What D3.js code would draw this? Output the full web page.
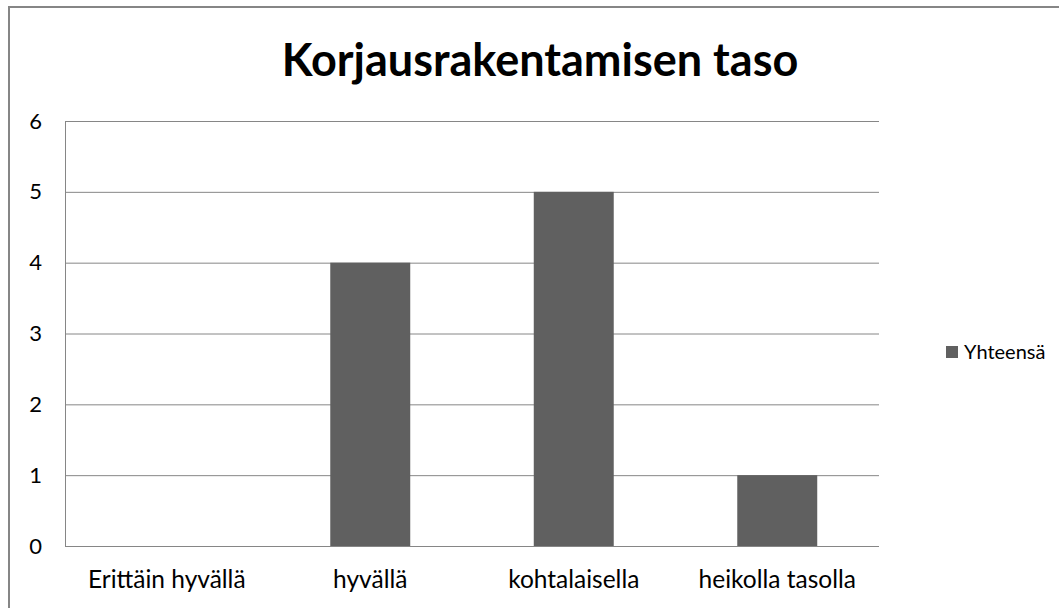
<!DOCTYPE html>
<html>
<head>
<meta charset="utf-8">
<script src="https://cdn.jsdelivr.net/npm/d3@7"></script>
<style>
  body { margin: 0; background: #fff; }
  text { font-family: Lato, "Open Sans", sans-serif; fill: #000; }
</style>
</head>
<body>
<div id="chart"></div>
<script>
// chart data
var categories = ["Erittäin hyvällä", "hyvällä", "kohtalaisella", "heikolla tasolla"];
var values = [0, 4, 5, 1];
var yTicks = [0, 1, 2, 3, 4, 5, 6];
var seriesName = "Yhteensä";
var chartTitle = "Korjausrakentamisen taso";

var svgWidth = 1059;
var svgHeight = 608;

var margin = { top: 121, right: 180, bottom: 62, left: 65 };
var width = svgWidth - margin.left - margin.right;
var height = svgHeight - margin.top - margin.bottom;

var svg = d3.select("#chart")
  .append("svg")
  .attr("width", svgWidth)
  .attr("height", svgHeight);

// outer frame (cut by the picture on the right and bottom)
svg.append("rect")
  .attr("x", 9)
  .attr("y", 7)
  .attr("width", svgWidth + 20)
  .attr("height", svgHeight + 20)
  .attr("fill", "none")
  .attr("stroke", "#868686")
  .attr("stroke-width", 2);

svg.append("text")
  .attr("x", 540)
  .attr("y", 76)
  .attr("text-anchor", "middle")
  .attr("font-size", "45px")
  .attr("font-weight", "bold")
  .text(chartTitle);

var chartGroup = svg.append("g")
  .attr("transform", `translate(${margin.left}, ${margin.top})`);

var xScale = d3.scaleBand()
  .domain(categories)
  .range([0, width])
  .padding(0);

var yScale = d3.scaleLinear()
  .domain([0, 6])
  .range([height, 0]);

// gridlines
chartGroup.selectAll(".grid")
  .data(yTicks)
  .enter()
  .append("line")
  .attr("x1", 0)
  .attr("x2", width)
  .attr("y1", d => yScale(d) + 0.5)
  .attr("y2", d => yScale(d) + 0.5)
  .attr("stroke", "#868686")
  .attr("stroke-width", 1);

// left axis line
chartGroup.append("line")
  .attr("x1", 0.5)
  .attr("x2", 0.5)
  .attr("y1", 0)
  .attr("y2", height)
  .attr("stroke", "#868686");

// y labels
var leftAxis = d3.axisLeft(yScale).tickValues(yTicks).tickFormat(d3.format("d")).tickSize(0).tickPadding(23);
var yAxis = chartGroup.append("g").call(leftAxis);
yAxis.select(".domain").remove();
yAxis.selectAll("text")
  .attr("font-size", "22px")
  .attr("font-family", "Lato, sans-serif")
  .attr("fill", "#000");

// x labels
var bottomAxis = d3.axisBottom(xScale).tickSize(0).tickPadding(25);
var xAxis = chartGroup.append("g")
  .attr("transform", `translate(0, ${height})`)
  .call(bottomAxis);
xAxis.select(".domain").remove();
xAxis.selectAll("text")
  .attr("font-size", "24.5px")
  .attr("font-family", "Lato, sans-serif")
  .attr("fill", "#000");

// bars
var barWidth = xScale.bandwidth() * 0.393;
chartGroup.selectAll(".bar")
  .data(values)
  .enter()
  .append("rect")
  .attr("class", "bar")
  .attr("x", (d, i) => xScale(categories[i]) + (xScale.bandwidth() - barWidth) / 2)
  .attr("y", d => yScale(d))
  .attr("width", barWidth)
  .attr("height", d => height - yScale(d))
  .attr("fill", "#606060");

// legend
var legend = svg.append("g")
  .attr("transform", "translate(946, 346)");
legend.append("rect")
  .attr("width", 12)
  .attr("height", 12)
  .attr("fill", "#606060");
legend.append("text")
  .attr("x", 18)
  .attr("y", 13)
  .attr("font-size", "20px")
  .text(seriesName);
</script>
</body>
</html>
